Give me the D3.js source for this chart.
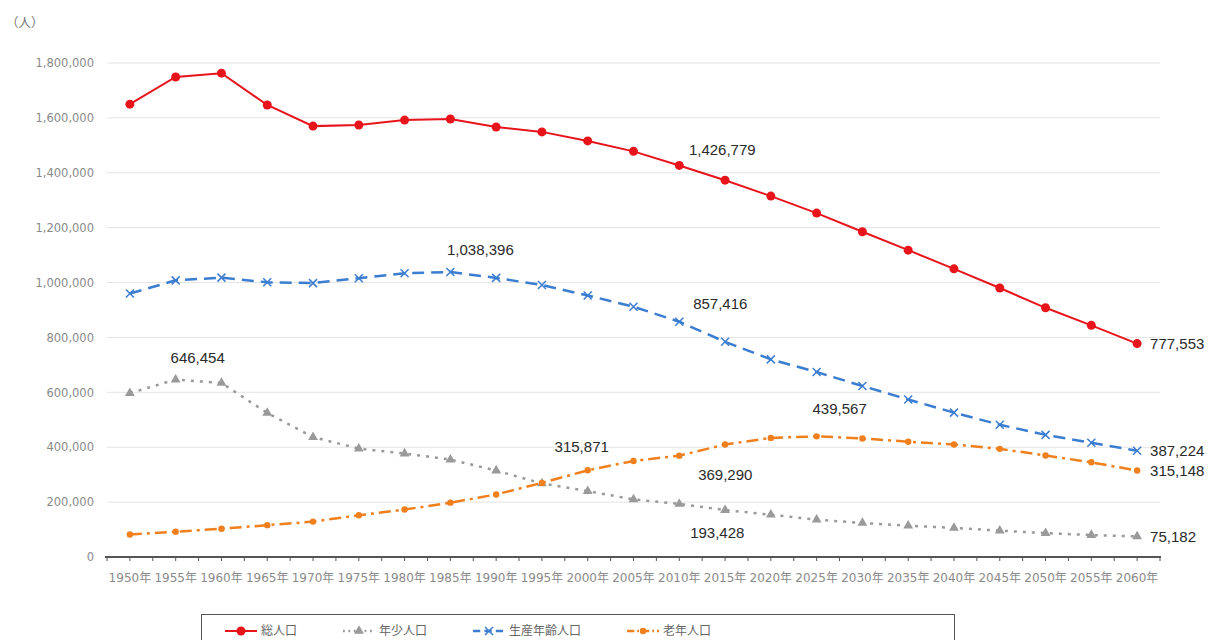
<!DOCTYPE html>
<html>
<head>
<meta charset="utf-8">
<script src="https://cdn.jsdelivr.net/npm/d3@7"></script>
<style>
  html, body { margin: 0; padding: 0; background: #fff; }
  svg { display: block; }
</style>
</head>
<body>
<svg id="chartSVG" width="1216" height="640"></svg>
<script>
// categories (x axis)
const years = ["1950","1955","1960","1965","1970","1975","1980","1985","1990","1995","2000",
  "2005","2010","2015","2020","2025","2030","2035","2040","2045","2050","2055","2060"];
const yTicks = [0, 200000, 400000, 600000, 800000, 1000000, 1200000, 1400000, 1600000, 1800000];

// series values (人)
const totalPop = [1650000, 1749000, 1763000, 1647000, 1570000, 1574000, 1592000, 1596000, 1567000, 1549000, 1516000,
  1478000, 1426779, 1373000, 1315000, 1253000, 1185000, 1118000, 1050000, 980000, 908000, 844000, 777553];
const youngPop = [597000, 646454, 634000, 525000, 437000, 395000, 377000, 355000, 315000, 268000, 240000,
  210000, 193428, 171000, 154000, 136000, 124000, 114000, 106000, 96000, 87000, 80000, 75182];
const workingPop = [960000, 1008000, 1018000, 1001000, 998000, 1016000, 1034000, 1038396, 1017000, 991000, 953000,
  912000, 857416, 784000, 720000, 674000, 623000, 574000, 526000, 482000, 445000, 416000, 387224];
const elderlyPop = [82000, 92000, 103000, 116000, 129000, 152000, 173000, 198000, 228000, 270000, 315871,
  350000, 369290, 410000, 434000, 439567, 432000, 420000, 410000, 394000, 370000, 345000, 315148];

const seriesNames = ["総人口", "年少人口", "生産年齢人口", "老年人口"];

drawChart("#chartSVG");

function drawChart(elm) {
  var svg = d3.select(elm);
  var fmt = d3.format(",");

  var x = d3.scalePoint().domain(years).range([107, 1160]).padding(0.5);
  var y = d3.scaleLinear().domain([0, 1800000]).range([557, 63]);

  var series = [
    { name: seriesNames[0], values: totalPop, color: "#e8141c", dash: null, width: 2, marker: "circle" },
    { name: seriesNames[1], values: youngPop, color: "#9a9a9a", dash: "3,6", width: 2.5, marker: "triangle" },
    { name: seriesNames[2], values: workingPop, color: "#3b7dd0", dash: "12,7", width: 2.5, marker: "cross" },
    { name: seriesNames[3], values: elderlyPop, color: "#f0801e", dash: "12,5,3,5", width: 2.5, marker: "dot" }
  ];

  // y label
  svg.append("text")
    .attr("x", 6).attr("y", 27)
    .attr("font-family", "'Noto Sans CJK JP', sans-serif")
    .attr("font-size", 12.5)
    .attr("fill", "#777")
    .text("（人）");

  // grid lines
  svg.append("g")
    .selectAll("line")
    .data(yTicks.filter(d => d > 0))
    .join("line")
    .attr("x1", 107).attr("x2", 1160)
    .attr("y1", d => y(d)).attr("y2", d => y(d))
    .attr("stroke", "#e4e4e4")
    .attr("stroke-width", 1);

  // y axis labels
  var yAxis = svg.append("g")
    .attr("transform", "translate(100,0)")
    .call(d3.axisLeft(y).tickValues(yTicks).tickSize(0).tickPadding(6).tickFormat(fmt));
  yAxis.select(".domain").remove();
  yAxis.selectAll("text")
    .attr("font-family", "'DejaVu Sans', sans-serif")
    .attr("font-size", 11.5)
    .attr("fill", "#8a8a8a");

  // x axis
  var step = x.step();
  var halfTicks = d3.range(years.length * 2 + 1).map(i => 107 + i * step / 2);
  var xg = svg.append("g");
  xg.selectAll("line.tk")
    .data(halfTicks)
    .join("line")
    .attr("class", "tk")
    .attr("x1", d => d).attr("x2", d => d)
    .attr("y1", 557).attr("y2", 561)
    .attr("stroke", "#555")
    .attr("stroke-width", 1);
  xg.append("line")
    .attr("x1", 105).attr("x2", 1161)
    .attr("y1", 557).attr("y2", 557)
    .attr("stroke", "#555")
    .attr("stroke-width", 2);
  xg.selectAll("text")
    .data(years)
    .join("text")
    .attr("x", d => x(d))
    .attr("y", 582)
    .attr("text-anchor", "middle")
    .attr("font-family", "'DejaVu Sans', 'Noto Sans CJK JP', sans-serif")
    .attr("font-size", 12)
    .attr("fill", "#8a8a8a")
    .text(d => d + "年");

  // lines
  var line = d3.line()
    .x((d, i) => x(years[i]))
    .y(d => y(d));

  series.forEach(function (s) {
    var g = svg.append("g");
    g.append("path")
      .datum(s.values)
      .attr("fill", "none")
      .attr("stroke", s.color)
      .attr("stroke-width", s.width)
      .attr("stroke-dasharray", s.dash)
      .attr("d", line);
    g.selectAll("g.mk")
      .data(s.values)
      .join("g")
      .attr("class", "mk")
      .attr("transform", (d, i) => `translate(${x(years[i])},${y(d)})`)
      .each(function () { drawMarker(d3.select(this), s); });
  });

  // data labels
  var labels = [
    { s: 0, i: 12, dx: 43, dy: -16, anchor: "middle" },
    { s: 2, i: 7, dx: 30, dy: -22, anchor: "middle" },
    { s: 2, i: 12, dx: 41, dy: -18, anchor: "middle" },
    { s: 1, i: 1, dx: 22, dy: -22, anchor: "middle" },
    { s: 3, i: 10, dx: -6, dy: -24, anchor: "middle" },
    { s: 3, i: 12, dx: 46, dy: 19, anchor: "middle" },
    { s: 1, i: 12, dx: 38, dy: 29, anchor: "middle" },
    { s: 3, i: 15, dx: 23, dy: -28, anchor: "middle" },
    { s: 0, i: 22, dx: 13, dy: 0, anchor: "start" },
    { s: 2, i: 22, dx: 13, dy: 0, anchor: "start" },
    { s: 3, i: 22, dx: 13, dy: 0, anchor: "start" },
    { s: 1, i: 22, dx: 13, dy: 0, anchor: "start" }
  ];
  svg.append("g")
    .selectAll("text")
    .data(labels)
    .join("text")
    .attr("x", d => x(years[d.i]) + d.dx)
    .attr("y", d => y(series[d.s].values[d.i]) + d.dy)
    .attr("dy", "0.36em")
    .attr("text-anchor", d => d.anchor)
    .attr("font-family", "'Liberation Sans', Arial, sans-serif")
    .attr("font-size", 15)
    .attr("fill", "#2a2a2a")
    .text(d => fmt(series[d.s].values[d.i]));

  // legend
  var lg = svg.append("g");
  lg.append("rect")
    .attr("x", 201.5).attr("y", 614.5)
    .attr("width", 753).attr("height", 40)
    .attr("fill", "#fff")
    .attr("stroke", "#555")
    .attr("stroke-width", 1);
  var lx = 225;
  series.forEach(function (s) {
    var it = lg.append("g").attr("transform", `translate(${lx},631)`);
    it.append("line")
      .attr("x1", 0).attr("x2", 32)
      .attr("stroke", s.color)
      .attr("stroke-width", s.width)
      .attr("stroke-dasharray", s.dash ? s.dash.split(",").map(v => v * 0.6).join(",") : null);
    drawMarker(it.append("g").attr("transform", "translate(16,0)"), s);
    var t = it.append("text")
      .attr("x", 36).attr("dy", "0.36em")
      .attr("font-family", "'Noto Sans CJK JP', sans-serif")
      .attr("font-size", 12)
      .attr("fill", "#666")
      .text(s.name);
    lx += 36 + t.node().getComputedTextLength() + 46;
  });
}

function drawMarker(g, s) {
  if (s.marker == "circle") {
    g.append("circle").attr("r", 4.5).attr("fill", s.color);
  } else if (s.marker == "triangle") {
    g.append("path").attr("d", d3.symbol(d3.symbolTriangle, 42)()).attr("fill", s.color);
  } else if (s.marker == "cross") {
    g.append("path").attr("d", "M-4,-4L4,4M-4,4L4,-4")
      .attr("stroke", s.color).attr("stroke-width", 1.5).attr("fill", "none");
  } else {
    g.append("circle").attr("r", 3.2).attr("fill", s.color);
  }
}
</script>
</body>
</html>
